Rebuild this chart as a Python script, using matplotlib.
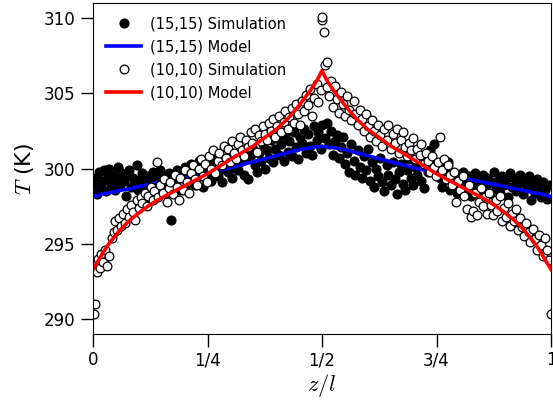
import numpy as np
import matplotlib
matplotlib.use('Agg')
import matplotlib.pyplot as plt

plt.rcParams['mathtext.fontset'] = 'cm'

# (15,15) simulation
z_sim15 = [0.002, 0.006, 0.009, 0.013, 0.017, 0.021, 0.025, 0.028, 0.032, 0.036, 0.040, 0.044, 0.047, 0.051,
           0.055, 0.059, 0.063, 0.067, 0.071, 0.075, 0.079, 0.083, 0.087, 0.091, 0.095, 0.099, 0.104, 0.108,
           0.112, 0.117, 0.121, 0.125, 0.130, 0.134, 0.138, 0.143, 0.147, 0.152, 0.156, 0.160, 0.165, 0.170,
           0.174, 0.178, 0.183, 0.187, 0.191, 0.196, 0.200, 0.205, 0.209, 0.213, 0.218, 0.222, 0.227, 0.231,
           0.236, 0.240, 0.245, 0.249, 0.254, 0.258, 0.263, 0.267, 0.272, 0.276, 0.281, 0.285, 0.290, 0.294,
           0.299, 0.303, 0.308, 0.312, 0.317, 0.321, 0.326, 0.330, 0.335, 0.339, 0.344, 0.348, 0.353, 0.357,
           0.362, 0.366, 0.371, 0.375, 0.380, 0.384, 0.389, 0.393, 0.398, 0.402, 0.407, 0.411, 0.416, 0.420,
           0.425, 0.429, 0.434, 0.438, 0.443, 0.447, 0.452, 0.456, 0.461, 0.465, 0.470, 0.474, 0.479, 0.483,
           0.488, 0.492, 0.497, 0.501, 0.506, 0.510, 0.515, 0.519, 0.524, 0.528, 0.533, 0.537, 0.542, 0.546,
           0.551, 0.555, 0.560, 0.564, 0.569, 0.573, 0.578, 0.582, 0.587, 0.591, 0.596, 0.600, 0.605, 0.609,
           0.614, 0.618, 0.623, 0.627, 0.632, 0.636, 0.641, 0.645, 0.650, 0.654, 0.659, 0.663, 0.668, 0.672,
           0.677, 0.681, 0.686, 0.690, 0.695, 0.699, 0.704, 0.708, 0.713, 0.717, 0.722, 0.726, 0.731, 0.735,
           0.740, 0.744, 0.749, 0.753, 0.758, 0.762, 0.767, 0.771, 0.776, 0.780, 0.785, 0.789, 0.794, 0.798,
           0.803, 0.807, 0.812, 0.816, 0.821, 0.825, 0.830, 0.834, 0.839, 0.843, 0.848, 0.852, 0.857, 0.861,
           0.866, 0.870, 0.875, 0.879, 0.884, 0.888, 0.893, 0.897, 0.902, 0.906, 0.911, 0.915, 0.920, 0.924,
           0.929, 0.933, 0.938, 0.942, 0.947, 0.951, 0.956, 0.960, 0.965, 0.969, 0.974, 0.978, 0.983, 0.987,
           0.992, 0.996]
T_sim15 = [298.9, 299.4, 298.3, 299.8, 298.7, 299.2, 299.9, 298.5, 299.5, 300.0, 299.0, 299.6, 298.6, 299.3,
           300.1, 298.9, 299.7, 299.2, 298.2, 299.5, 299.9, 298.8, 299.4, 299.1, 300.2, 298.6, 299.3, 299.7,
           298.9, 297.9, 299.5, 299.0, 299.8, 298.7, 299.4, 299.1, 299.9, 298.8, 299.5, 298.4, 299.7, 296.6,
           299.2, 298.9, 299.9, 299.4, 298.6, 299.6, 300.1, 299.0, 299.7, 300.3, 299.3, 298.9, 299.9, 300.5,
           299.5, 298.8, 300.0, 299.6, 300.4, 299.2, 299.9, 300.6, 299.5, 300.2, 299.1, 300.0, 300.7, 299.8,
           300.3, 299.4, 300.1, 300.8, 299.9, 300.4, 301.1, 299.6, 300.6, 299.3, 300.9, 301.4, 300.2, 299.8,
           301.0, 300.5, 301.6, 300.0, 301.2, 300.7, 301.9, 300.4, 301.3, 302.0, 300.9, 301.6, 300.5, 302.2,
           301.1, 301.8, 300.8, 302.4, 301.4, 300.6, 302.1, 301.7, 302.6, 301.0, 302.3, 301.5, 300.9, 302.8,
           301.9, 302.4, 301.3, 302.9, 302.0, 303.0, 301.6, 302.5, 300.9, 301.8, 302.2, 300.7, 301.4, 302.1,
           300.3, 301.0, 299.8, 301.6, 300.5, 299.6, 301.2, 300.1, 299.4, 300.8, 299.9, 301.3, 299.2, 300.4,
           298.8, 300.0, 299.5, 300.7, 299.1, 298.5, 300.2, 299.6, 298.9, 300.4, 299.3, 298.3, 299.8, 300.3,
           299.0, 298.6, 299.9, 300.6, 299.4, 298.9, 300.1, 299.6, 300.8, 299.2, 298.7, 300.3, 299.8, 301.2,
           300.5, 301.6, 299.9, 300.2, 299.4, 298.8, 299.9, 299.3, 300.4, 298.6, 299.7, 299.1, 298.4, 299.6,
           298.9, 299.8, 299.2, 298.6, 299.5, 298.2, 299.0, 299.7, 298.8, 299.3, 298.5, 299.6, 298.9, 299.4,
           298.3, 299.1, 299.8, 298.7, 299.2, 298.4, 299.5, 298.9, 299.3, 298.1, 299.7, 298.8, 299.4, 298.5,
           299.0, 299.6, 298.3, 299.2, 298.7, 299.5, 297.9, 299.0, 298.4, 299.3, 298.8, 298.1, 299.1, 298.6,
           298.0, 298.9]

# (10,10) simulation
z_sim10 = [0.002, 0.004, 0.003, 0.006, 0.009, 0.012, 0.015, 0.018, 0.022, 0.026, 0.030, 0.034, 0.041, 0.045,
           0.049, 0.053, 0.057, 0.061, 0.066, 0.070, 0.074, 0.078, 0.083, 0.087, 0.091, 0.095, 0.100, 0.104,
           0.108, 0.113, 0.117, 0.121, 0.126, 0.130, 0.134, 0.139, 0.143, 0.147, 0.152, 0.156, 0.161, 0.165,
           0.169, 0.174, 0.178, 0.183, 0.187, 0.191, 0.196, 0.200, 0.205, 0.209, 0.214, 0.218, 0.222, 0.227,
           0.231, 0.236, 0.240, 0.245, 0.249, 0.254, 0.258, 0.263, 0.267, 0.272, 0.276, 0.281, 0.285, 0.290,
           0.294, 0.299, 0.303, 0.308, 0.312, 0.317, 0.321, 0.326, 0.330, 0.335, 0.339, 0.344, 0.348, 0.353,
           0.357, 0.362, 0.366, 0.371, 0.375, 0.380, 0.384, 0.389, 0.393, 0.398, 0.402, 0.407, 0.411, 0.416,
           0.420, 0.425, 0.429, 0.434, 0.438, 0.443, 0.447, 0.452, 0.456, 0.461, 0.465, 0.470, 0.474, 0.479,
           0.483, 0.488, 0.492, 0.497, 0.499, 0.501, 0.504, 0.507, 0.510, 0.512, 0.516, 0.520, 0.524, 0.528,
           0.533, 0.537, 0.542, 0.546, 0.551, 0.555, 0.560, 0.564, 0.569, 0.573, 0.578, 0.582, 0.587, 0.591,
           0.596, 0.600, 0.605, 0.609, 0.614, 0.618, 0.623, 0.627, 0.632, 0.636, 0.641, 0.645, 0.650, 0.654,
           0.659, 0.663, 0.668, 0.672, 0.677, 0.681, 0.686, 0.690, 0.695, 0.699, 0.704, 0.708, 0.713, 0.717,
           0.722, 0.726, 0.731, 0.735, 0.740, 0.744, 0.749, 0.753, 0.757, 0.762, 0.766, 0.771, 0.775, 0.780,
           0.784, 0.789, 0.793, 0.798, 0.802, 0.807, 0.811, 0.816, 0.820, 0.825, 0.829, 0.834, 0.838, 0.843,
           0.847, 0.852, 0.856, 0.861, 0.865, 0.870, 0.874, 0.879, 0.883, 0.888, 0.892, 0.897, 0.901, 0.906,
           0.910, 0.915, 0.919, 0.924, 0.928, 0.933, 0.937, 0.942, 0.946, 0.951, 0.955, 0.960, 0.964, 0.969,
           0.973, 0.978, 0.982, 0.987, 0.991, 0.996, 0.999]
T_sim10 = [290.3, 291.0, 293.3, 293.6, 293.1, 294.0, 293.4, 294.3, 293.8, 294.6, 293.5, 294.2, 295.4, 295.8,
           296.5, 295.9, 296.7, 296.2, 297.0, 296.4, 297.3, 296.8, 297.6, 297.1, 296.6, 297.9, 297.4, 298.1,
           297.7, 298.4, 297.5, 298.2, 298.8, 297.9, 298.5, 300.4, 298.1, 298.9, 298.4, 299.3, 297.8, 298.7,
           299.1, 298.3, 299.6, 298.8, 297.9, 299.4, 298.6, 299.9, 299.1, 298.4, 299.7, 300.2, 299.3, 298.9,
           300.0, 300.6, 299.5, 300.3, 299.1, 300.8, 300.0, 301.2, 299.7, 300.5, 301.0, 300.2, 301.5, 300.7,
           301.3, 300.4, 301.8, 301.0, 300.6, 301.6, 302.1, 301.2, 300.8, 301.9, 301.4, 302.4, 301.7, 302.6,
           301.1, 302.2, 301.8, 302.8, 302.3, 301.9, 303.0, 302.5, 303.3, 302.1, 302.8, 303.5, 302.4, 303.1,
           303.8, 302.6, 303.4, 304.0, 303.0, 304.3, 303.6, 302.9, 304.5, 303.8, 304.9, 304.2, 305.3, 303.5,
           304.7, 305.6, 304.4, 305.2, 309.9, 310.1, 309.1, 306.9, 307.1, 305.4, 304.8, 305.8, 304.1, 305.5,
           304.6, 303.7, 305.1, 304.3, 303.5, 304.8, 303.9, 303.2, 304.5, 303.6, 302.9, 303.9, 303.3, 302.5,
           303.6, 302.8, 302.1, 303.2, 302.5, 301.8, 302.9, 302.2, 301.5, 302.6, 301.9, 302.9, 301.3, 302.3,
           301.7, 302.6, 301.0, 301.9, 302.4, 301.4, 300.8, 301.7, 301.2, 302.0, 300.6, 301.3, 300.9, 301.6,
           300.3, 301.0, 300.5, 299.8, 300.8, 300.1, 299.5, 300.4, 302.1, 299.9, 300.6, 299.3, 300.2, 299.6,
           298.9, 299.8, 297.8, 299.2, 298.6, 299.5, 298.2, 297.3, 298.9, 296.8, 297.2, 298.4, 296.9, 297.8,
           298.7, 297.5, 298.1, 297.0, 298.4, 297.6, 296.9, 297.9, 297.2, 298.2, 296.5, 297.4, 296.8, 297.7,
           296.2, 297.0, 296.5, 297.3, 295.9, 296.7, 296.1, 295.5, 296.4, 295.8, 295.1, 296.0, 295.3, 294.6,
           295.6, 294.9, 294.2, 295.4, 294.6, 293.9, 290.3]

# model curves
z_model = [0.0, 0.01, 0.02, 0.03, 0.04, 0.06, 0.08, 0.10, 0.125, 0.15, 0.175, 0.20, 0.25, 0.30, 0.35,
           0.40, 0.425, 0.45, 0.475, 0.49, 0.50,
           0.51, 0.525, 0.55, 0.575, 0.60, 0.65, 0.70, 0.75, 0.80, 0.825, 0.85, 0.875, 0.90, 0.92,
           0.94, 0.96, 0.97, 0.98, 0.99, 1.0]
T_model15 = [298.15, 298.2, 298.3, 298.35, 298.4, 298.55, 298.65, 298.8, 298.95, 299.1, 299.25, 299.4, 299.7,
             300.05, 300.45, 300.85, 301.05, 301.25, 301.38, 301.44, 301.47,
             301.44, 301.38, 301.25, 301.05, 300.85, 300.45, 300.05, 299.7, 299.4, 299.25, 299.1, 298.95,
             298.8, 298.65, 298.55, 298.4, 298.35, 298.3, 298.2, 298.15]
T_model10 = [293.3, 293.8, 294.3, 294.8, 295.2, 295.95, 296.55, 297.05, 297.6, 298.05, 298.45, 298.85, 299.65,
             300.6, 301.5, 302.6, 303.3, 304.2, 305.2, 305.9, 306.5,
             305.9, 305.2, 304.2, 303.3, 302.6, 301.5, 300.6, 299.65, 298.85, 298.45, 298.05, 297.6,
             297.05, 296.55, 295.95, 295.2, 294.8, 294.3, 293.8, 293.3]

xtick_pos = [0, 0.25, 0.5, 0.75, 1]
xtick_lab = ['0', '1/4', '1/2', '3/4', '1']

fig = plt.figure(figsize=(5.53, 4.01), dpi=100)
ax = fig.add_axes([93 / 553, 67 / 401, 458 / 553, 331 / 401])

ax.plot(z_sim15, T_sim15, 'o', color='black', markersize=6.3, label='(15,15) Simulation')
ax.plot(z_model, T_model15, color='blue', lw=2.6, label='(15,15) Model')
ax.plot(z_sim10, T_sim10, 'o', mfc='white', mec='black', mew=0.9, markersize=6.3,
        label='(10,10) Simulation')
ax.plot(z_model, T_model10, color='red', lw=2.6, label='(10,10) Model')

ax.set_xlim(0, 1)
ax.set_ylim(289, 311)
ax.set_xticks(xtick_pos)
ax.set_xticklabels(xtick_lab)
ax.set_yticks([290, 295, 300, 305, 310])
ax.tick_params(labelsize=12, length=9, width=1)
ax.set_xlabel('$z/l$', fontsize=16, labelpad=2)
ax.set_ylabel('$T$ (K)', fontsize=16, labelpad=6)

ax.legend(loc='upper left', frameon=False, fontsize=10.5, handlelength=2.4,
          handletextpad=0.6, labelspacing=0.55, bbox_to_anchor=(0.0, 1.0))

fig.savefig('out.png', dpi=100)
